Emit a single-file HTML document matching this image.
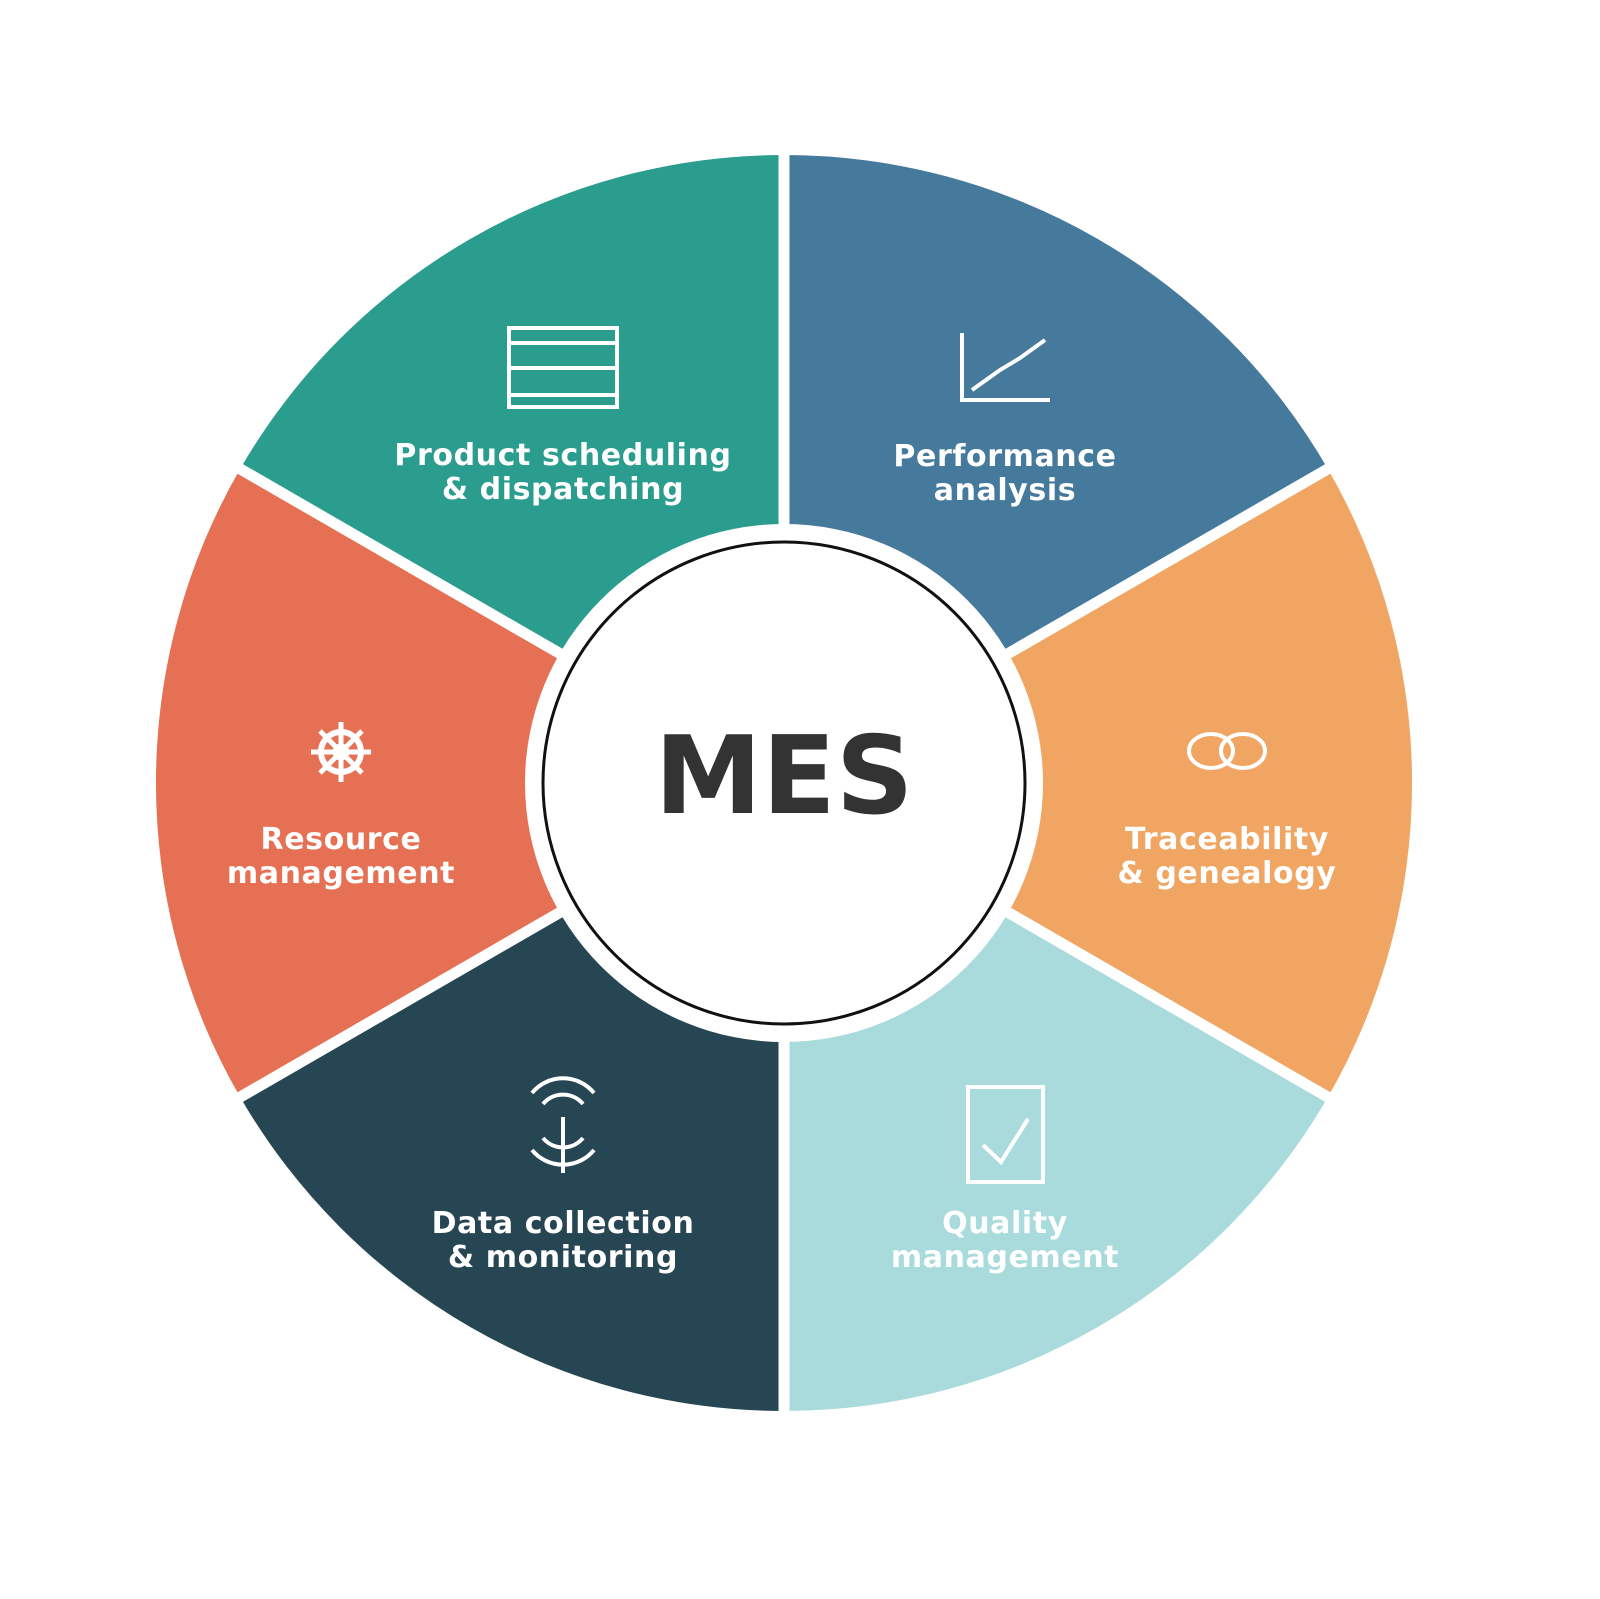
<!DOCTYPE html>
<html><head><meta charset="utf-8"><style>
html,body{margin:0;padding:0;background:#fff;}
svg{display:block;}
text{font-family:"DejaVu Sans","Liberation Sans",sans-serif;font-weight:bold;}
</style></head><body>
<svg width="1600" height="1599" viewBox="0 0 1600 1599" xmlns="http://www.w3.org/2000/svg">
<g>
<path d="M784,783 L784,155 A628,628 0 0 1 1327.9,469 Z" fill="#467a9c"/>
<path d="M784,783 L1327.9,469 A628,628 0 0 1 1327.9,1097 Z" fill="#f1a563"/>
<path d="M784,783 L1327.9,1097 A628,628 0 0 1 784,1411 Z" fill="#a9dbdc"/>
<path d="M784,783 L784,1411 A628,628 0 0 1 240.1,1097 Z" fill="#274653"/>
<path d="M784,783 L240.1,1097 A628,628 0 0 1 240.1,469 Z" fill="#e57053"/>
<path d="M784,783 L240.1,469 A628,628 0 0 1 784,155 Z" fill="#2b9d8e"/>
</g>
<g stroke="#fff" stroke-width="11">
<line x1="784" y1="783" x2="784" y2="140"/>
<line x1="784" y1="783" x2="784" y2="1430"/>
<line x1="784" y1="783" x2="1345" y2="459"/>
<line x1="784" y1="783" x2="1345" y2="1107"/>
<line x1="784" y1="783" x2="223" y2="459"/>
<line x1="784" y1="783" x2="223" y2="1107"/>
</g>
<circle cx="784" cy="783" r="259" fill="#fff"/>
<circle cx="784" cy="783" r="241" fill="#fff" stroke="#111" stroke-width="3"/>
<text x="784" y="813" font-size="108" fill="#333" text-anchor="middle">MES</text>
<g fill="#fff" font-size="30" text-anchor="middle" letter-spacing="0.6">
<text x="563" y="465">Product scheduling</text>
<text x="563" y="499">&amp; dispatching</text>
<text x="1005" y="466">Performance</text>
<text x="1005" y="500">analysis</text>
<text x="1227" y="849">Traceability</text>
<text x="1227" y="883">&amp; genealogy</text>
<text x="341" y="849">Resource</text>
<text x="341" y="883">management</text>
<text x="563" y="1233">Data collection</text>
<text x="563" y="1267">&amp; monitoring</text>
<text x="1005" y="1233">Quality</text>
<text x="1005" y="1267">management</text>
</g>
<g fill="none" stroke="#fff" stroke-width="4">
<rect x="509" y="328" width="108" height="79"/>
<line x1="509" y1="343" x2="617" y2="343"/>
<line x1="509" y1="368" x2="617" y2="368"/>
<line x1="509" y1="395" x2="617" y2="395"/>
<polyline points="962,333 962,400 1050,400"/>
<polyline points="972,390 1000,370 1020,358 1045,340"/>
<ellipse cx="1211" cy="751" rx="22" ry="17"/>
<ellipse cx="1243" cy="751" rx="22" ry="17"/>
<circle cx="341" cy="752" r="20" stroke-width="6"/>
<circle cx="341" cy="752" r="7" stroke-width="3"/>
<g stroke-width="5">
<line x1="341" y1="722" x2="341" y2="782"/>
<line x1="311" y1="752" x2="371" y2="752"/>
<line x1="320" y1="731" x2="362" y2="773"/>
<line x1="362" y1="731" x2="320" y2="773"/>
</g>
<path d="M532,1093 A40,40 0 0 1 594,1093"/>
<path d="M543,1104 A26,26 0 0 1 583,1104"/>
<line x1="563" y1="1117" x2="563" y2="1173"/>
<path d="M532,1150 A40,40 0 0 0 594,1150"/>
<path d="M543,1138 A26,26 0 0 0 583,1138"/>
<rect x="968" y="1087" width="75" height="95"/>
<polyline points="983,1145 1001,1162 1028,1119"/>
</g>
</svg>
</body></html>
